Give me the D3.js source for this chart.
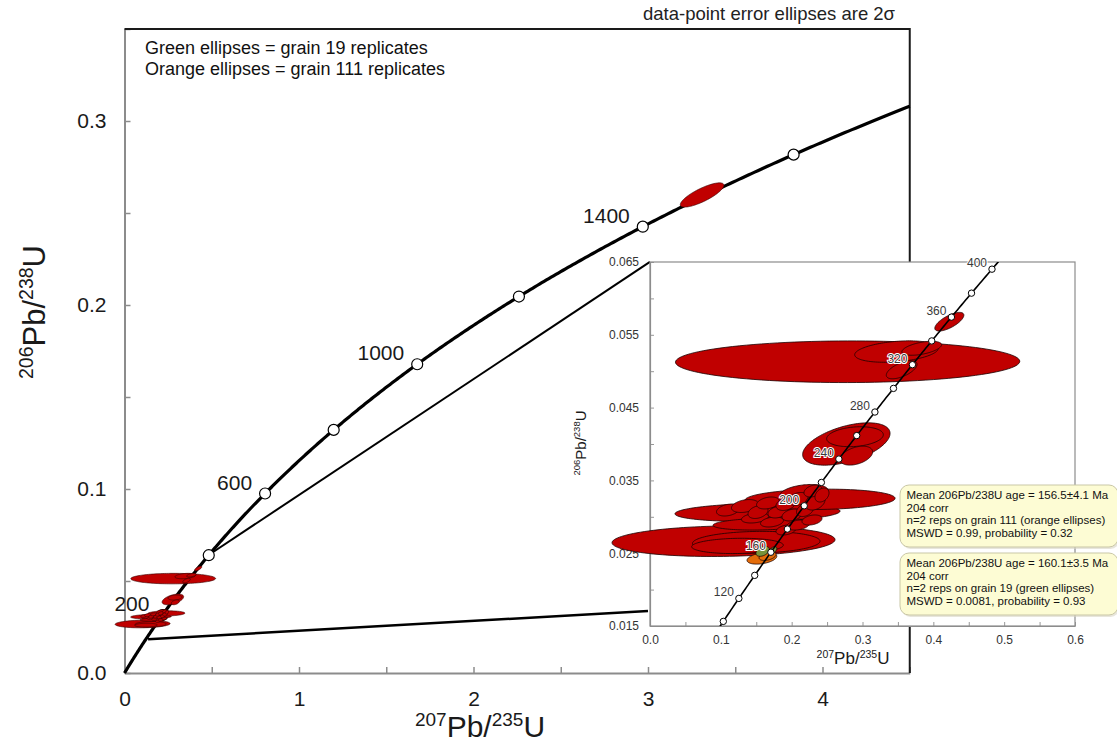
<!DOCTYPE html>
<html>
<head>
<meta charset="utf-8">
<script src="https://cdn.jsdelivr.net/npm/d3@7"></script>
<style>
  body { margin: 0; background: #fff; }
  svg { display: block; }
  text { font-family: "Liberation Sans", Arial, sans-serif; }
</style>
</head>
<body>
<svg id="chart" width="1117" height="744"></svg>
<script>
// U decay constants, per Ma
const LAMBDA_238 = 1.55125e-4;
const LAMBDA_235 = 9.8485e-4;

// Main concordia diagram
const mainXTickLabels = [0, 1, 2, 3, 4];
const mainYTickLabels = [0.0, 0.1, 0.2, 0.3];
const mainAgeMarks = [200, 400, 600, 800, 1000, 1200, 1400, 1600];
const mainAgeLabels = [200, 600, 1000, 1400];

// Enlarged view of the young part of the curve
const insetXTickLabels = [0.0, 0.1, 0.2, 0.3, 0.4, 0.5, 0.6];
const insetYTickLabels = [0.015, 0.025, 0.035, 0.045, 0.055, 0.065];
const insetAgeMarks = [100, 120, 140, 160, 180, 200, 220, 240, 260, 280, 300, 320, 340, 360, 380, 400];
const insetAgeLabels = [120, 160, 200, 240, 280, 320, 360, 400];

// Error ellipses: [207Pb/235U, 2s, 206Pb/238U, 2s, error correlation]
const redEllipses = [
  [0.279, 0.243, 0.0513, 0.00286, 0.02],
  [0.348, 0.059, 0.0527, 0.00147, 0.3],
  [0.3836, 0.028, 0.05315, 0.00096, 0.5],
  [0.3553, 0.0217, 0.0502, 0.00124, 0.6],
  [0.4226, 0.0205, 0.0568, 0.00128, 0.7],
  [0.2772, 0.0617, 0.0400, 0.00291, 0.5],
  [0.2894, 0.040, 0.0410, 0.00137, 0.2],
  [0.2913, 0.023, 0.0384, 0.0013, 0.4],
  [0.1038, 0.1574, 0.02665, 0.0021, 0.1],
  [0.150, 0.090, 0.0265, 0.0015, 0.1],
  [0.1235, 0.0647, 0.0260, 0.00105, 0.1],
  [0.1518, 0.1165, 0.0306, 0.00124, 0.15],
  [0.240, 0.106, 0.0324, 0.0014, 0.1],
  [0.2174, 0.0339, 0.0333, 0.00114, 0.3],
  [0.1588, 0.0699, 0.0290, 0.00082, 0.2],
  [0.1101, 0.0162, 0.03093, 0.00082, 0.3],
  [0.1341, 0.0191, 0.03148, 0.00089, 0.3],
  [0.1482, 0.0191, 0.02984, 0.00069, 0.3],
  [0.1525, 0.0141, 0.03066, 0.00089, 0.3],
  [0.1666, 0.0162, 0.0319, 0.00082, 0.3],
  [0.1722, 0.0162, 0.02929, 0.00069, 0.3],
  [0.1807, 0.0141, 0.03066, 0.00082, 0.3],
  [0.192, 0.0141, 0.03176, 0.00089, 0.3],
  [0.192, 0.0141, 0.02819, 0.00069, 0.3],
  [0.2005, 0.0141, 0.03025, 0.00082, 0.3],
  [0.209, 0.0141, 0.03245, 0.00089, 0.3],
  [0.209, 0.0162, 0.02887, 0.00069, 0.3],
  [0.2188, 0.012, 0.03093, 0.00089, 0.3],
  [0.2287, 0.0141, 0.02956, 0.00069, 0.3],
  [0.233, 0.0141, 0.03203, 0.0011, 0.3],
  [0.2301, 0.0127, 0.03354, 0.00082, 0.3],
  [0.2428, 0.0099, 0.03299, 0.00096, 0.3]
];
const oldEllipses = [
  [3.31, 0.125, 0.2598, 0.0066, 0.8]
];
const orangeEllipses = [
  [0.158, 0.021, 0.0243, 0.0008, 0.35],
  [0.166, 0.012, 0.0246, 0.0006, 0.4]
];
const greenEllipses = [
  [0.159, 0.0095, 0.02525, 0.00068, 0.4],
  [0.1735, 0.0055, 0.0254, 0.0005, 0.5]
];

// Reference lines running from the young part of the curve to the enlarged view
const connectorLines = [
  [[0.48, 0.064], [3.011, 0.2234]],
  [[0.135, 0.0183], [3.0, 0.0337]]
];

const summaryBoxes = [
  ["Mean 206Pb/238U age = 156.5\u00b14.1 Ma", "204 corr", "n=2 reps on grain 111 (orange ellipses)", "MSWD = 0.99, probability = 0.32"],
  ["Mean 206Pb/238U age = 160.1\u00b13.5 Ma", "204 corr", "n=2 reps on grain 19 (green ellipses)", "MSWD = 0.0081, probability = 0.93"]
];
const legendLines = ["Green ellipses = grain 19 replicates", "Orange ellipses = grain 111 replicates"];

const RED = "#c00000", ORANGE = "#e46c0a", GREEN = "#77933c";

const svg = d3.select("#chart");

function concordia(t) {
  return [Math.exp(LAMBDA_235 * t) - 1, Math.exp(LAMBDA_238 * t) - 1];
}
function ellipsePoints(e) {
  const [cx, sx, cy, sy, rho] = e;
  const k = Math.sqrt(1 - rho * rho);
  return d3.range(0, 2 * Math.PI + 0.001, Math.PI / 60).map(a =>
    [cx + sx * Math.cos(a), cy + sy * (rho * Math.cos(a) + k * Math.sin(a))]);
}
const isIn = (v, arr) => arr.some(a => Math.abs(a - v) < 1e-9);

// ---------- main diagram ----------
const mx = d3.scaleLinear().domain([0, 4.5]).range([124.5, 909.75]);
const my = d3.scaleLinear().domain([0, 0.35]).range([673, 29]);
const mLine = d3.line().x(d => mx(d[0])).y(d => my(d[1]));

const main = svg.append("g");

const mYAxis = d3.axisLeft(my)
  .tickValues(d3.range(0, 0.3501, 0.05).map(v => +v.toFixed(3)))
  .tickSizeInner(-6).tickSizeOuter(0).tickPadding(18)
  .tickFormat(v => isIn(v, mainYTickLabels) ? d3.format(".1f")(v) : "");
const mXAxis = d3.axisBottom(mx)
  .tickValues(d3.range(0, 4.501, 0.5).map(v => +v.toFixed(2)))
  .tickSizeInner(-6).tickSizeOuter(0).tickPadding(18)
  .tickFormat(v => isIn(v, mainXTickLabels) ? d3.format("d")(v) : "");

function styleAxis(g, color, width, fs, textColor) {
  g.select(".domain").attr("stroke", color).attr("stroke-width", width);
  g.selectAll(".tick line").attr("stroke", color).attr("stroke-width", width * 0.75);
  g.selectAll(".tick text").attr("font-size", fs).attr("fill", textColor)
    .attr("font-family", "'Liberation Sans', Arial, sans-serif");
}
main.append("g").attr("transform", `translate(${mx(0)},0)`).call(mYAxis)
  .call(g => styleAxis(g, "#8c8c8c", 2, 21, "#1a1a1a"));
main.append("g").attr("transform", `translate(0,${my(0)})`).call(mXAxis)
  .call(g => styleAxis(g, "#8c8c8c", 2, 21, "#1a1a1a"));

// top and right frame
main.append("path")
  .attr("d", `M${mx(0)},${my(0.35)}H${mx(4.5)}V${my(0)}`)
  .attr("fill", "none").attr("stroke", "#1a1a1a").attr("stroke-width", 2);

// connector lines
main.selectAll(".conn").data(connectorLines).join("path")
  .attr("d", mLine).attr("fill", "none").attr("stroke", "#000")
  .attr("stroke-width", (d, i) => i === 0 ? 2 : 2.5);

// concordia curve
const tMaxMain = Math.log(1 + 4.5) / LAMBDA_235;
const mainCurve = d3.range(0, tMaxMain, 4).concat([tMaxMain]).map(concordia);
main.append("path").attr("d", mLine(mainCurve))
  .attr("fill", "none").attr("stroke", "#000").attr("stroke-width", 3.2);

main.selectAll(".mc").data(mainAgeMarks).join("circle")
  .attr("cx", t => mx(concordia(t)[0])).attr("cy", t => my(concordia(t)[1]))
  .attr("r", 5.5).attr("fill", "#fff").attr("stroke", "#000").attr("stroke-width", 1.2);

// ellipses
main.selectAll(".me").data(redEllipses.concat(oldEllipses)).join("path")
  .attr("d", d => mLine(ellipsePoints(d)) + "Z")
  .attr("fill", RED).attr("stroke", "#300").attr("stroke-width", 0.6);

main.selectAll(".ml").data(mainAgeLabels).join("text")
  .attr("x", t => mx(concordia(t)[0]) - 13)
  .attr("y", t => my(concordia(t)[1]) - 4)
  .attr("text-anchor", "end").attr("font-size", 21).attr("fill", "#1a1a1a")
  .text(t => t);

// axis titles
function ratioTitle(sel, a, b, big, small) {
  sel.append("tspan").attr("font-size", small).attr("dy", -big * 0.38).text(a);
  sel.append("tspan").attr("font-size", big).attr("dy", big * 0.38).text("Pb/");
  sel.append("tspan").attr("font-size", small).attr("dy", -big * 0.38).text(b);
  sel.append("tspan").attr("font-size", big).attr("dy", big * 0.38).text("U");
}
svg.append("text").attr("x", 480).attr("y", 737).attr("text-anchor", "middle")
  .attr("fill", "#1a1a1a").call(s => ratioTitle(s, "207", "235", 30, 19));
svg.append("text").attr("transform", "translate(45,312) rotate(-90)")
  .attr("text-anchor", "middle").attr("fill", "#1a1a1a")
  .call(s => ratioTitle(s, "206", "238", 31, 19.5));

// notes
svg.append("text").attr("x", 769).attr("y", 20).attr("text-anchor", "middle")
  .attr("font-size", 18.5).attr("fill", "#222").text("data-point error ellipses are 2\u03c3");
svg.selectAll(".leg").data(legendLines).join("text")
  .attr("x", 145).attr("y", (d, i) => 54 + i * 20.5)
  .attr("font-family", "Lato, 'Open Sans', sans-serif").attr("font-size", 18)
  .attr("fill", "#111").text(d => d);

// ---------- enlarged view ----------
const ix = d3.scaleLinear().domain([0, 0.6]).range([650, 1075]);
const iy = d3.scaleLinear().domain([0.015, 0.065]).range([626, 262]);
const iLine = d3.line().x(d => ix(d[0])).y(d => iy(d[1]));

const inset = svg.append("g");
inset.append("rect")
  .attr("x", ix(0)).attr("y", iy(0.065))
  .attr("width", ix(0.6) - ix(0)).attr("height", iy(0.015) - iy(0.065))
  .attr("fill", "#fff").attr("stroke", "#8c8c8c").attr("stroke-width", 1.2);

inset.append("clipPath").attr("id", "insetClip").append("rect")
  .attr("x", ix(0)).attr("y", iy(0.065))
  .attr("width", ix(0.6) - ix(0)).attr("height", iy(0.015) - iy(0.065));

const iYAxis = d3.axisLeft(iy)
  .tickValues(d3.range(0.015, 0.0651, 0.005).map(v => +v.toFixed(4)))
  .tickSizeInner(-4).tickSizeOuter(0).tickPadding(11)
  .tickFormat(v => isIn(v, insetYTickLabels) ? d3.format(".3f")(v) : "");
const iXAxis = d3.axisBottom(ix)
  .tickValues(d3.range(0, 0.601, 0.05).map(v => +v.toFixed(3)))
  .tickSizeInner(-4).tickSizeOuter(0).tickPadding(9)
  .tickFormat(v => isIn(v, insetXTickLabels) ? d3.format(".1f")(v) : "");
inset.append("g").attr("transform", `translate(${ix(0)},0)`).call(iYAxis)
  .call(g => styleAxis(g, "#8c8c8c", 1.2, 12, "#333"));
inset.append("g").attr("transform", `translate(0,${iy(0.015)})`).call(iXAxis)
  .call(g => styleAxis(g, "#8c8c8c", 1.2, 12, "#333"));

const drawEllipses = (data, fill) => inset.append("g").selectAll("path").data(data).join("path")
  .attr("d", d => iLine(ellipsePoints(d)) + "Z")
  .attr("fill", fill).attr("stroke", "#1a0000").attr("stroke-width", 0.8);
drawEllipses(redEllipses, RED);
drawEllipses(orangeEllipses, ORANGE);
drawEllipses(greenEllipses, GREEN);

const insetCurve = d3.range(80, 430, 2).map(concordia);
inset.append("path").attr("d", iLine(insetCurve)).attr("clip-path", "url(#insetClip)")
  .attr("fill", "none").attr("stroke", "#000").attr("stroke-width", 1.6);

inset.selectAll(".il").data(insetAgeLabels).join("text")
  .attr("x", t => ix(concordia(t)[0]) - 5)
  .attr("y", t => iy(concordia(t)[1]) - 2)
  .attr("text-anchor", "end").attr("font-size", 12)
  .attr("fill", "#3a3a3a").attr("stroke", "#fff").attr("stroke-width", 2)
  .attr("paint-order", "stroke").text(t => t);

inset.selectAll(".ic").data(insetAgeMarks).join("circle")
  .attr("cx", t => ix(concordia(t)[0])).attr("cy", t => iy(concordia(t)[1]))
  .attr("r", 3.2).attr("fill", "#fff").attr("stroke", "#000").attr("stroke-width", 1);

svg.append("text").attr("x", 853).attr("y", 664).attr("text-anchor", "middle")
  .attr("fill", "#1a1a1a").call(s => ratioTitle(s, "207", "235", 17, 10.5));
svg.append("text").attr("transform", "translate(586,443) rotate(-90)")
  .attr("text-anchor", "middle").attr("fill", "#1a1a1a")
  .call(s => ratioTitle(s, "206", "238", 15, 9.5));

// ---------- summary boxes ----------
const boxes = svg.selectAll(".box").data(summaryBoxes).join("g")
  .attr("transform", (d, i) => `translate(900,${485 + i * 68})`);
boxes.append("rect").attr("x", 1.5).attr("y", 2).attr("width", 218).attr("height", 62)
  .attr("rx", 9).attr("fill", "#d8d6c4").attr("opacity", 0.6);
boxes.append("rect").attr("width", 218).attr("height", 62).attr("rx", 9)
  .attr("fill", "#fdfcd4").attr("stroke", "#c9c7a6").attr("stroke-width", 1);
boxes.selectAll("text").data(d => d).join("text")
  .attr("x", 6.5).attr("y", (d, i) => 14 + i * 12.6)
  .attr("font-size", 11.5).attr("fill", "#111").text(d => d);
</script>
</body>
</html>
